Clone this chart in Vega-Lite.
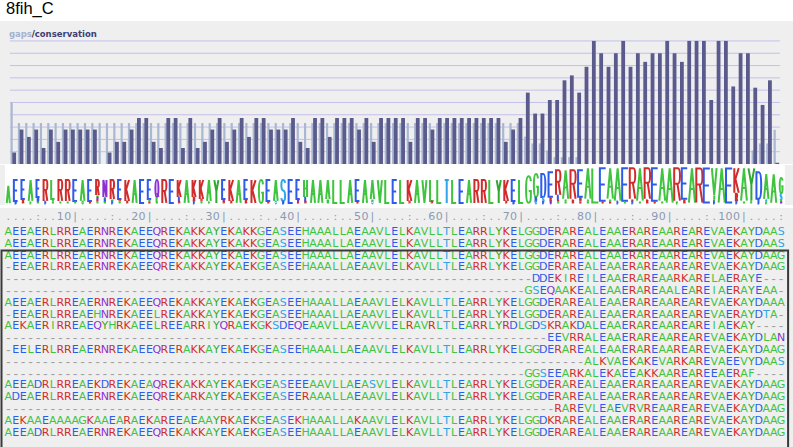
{
"$schema":"https://vega.github.io/schema/vega-lite/v6.json",
"padding":0,
"background":"#ffffff",
"spacing":0,
"title":{"text":"8fih_C","anchor":"start","frame":"group","font":"Liberation Sans","fontSize":16.5,"fontWeight":"normal","color":"#000000","dx":6,"offset":4},
"config":{"view":{"stroke":null,"fill":"#efefef"},"legend":{"disable":true},"concat":{"spacing":0}},
"datasets":{
"cols":[
{"c":1,"v":0.093,"g":0.5,"t":"."},{"c":2,"v":0.28,"g":0.333,"t":"."},{"c":3,"v":0.22,"g":0.333,"t":"."},{"c":4,"v":0.28,"g":0.333,"t":"."},{"c":5,"v":0.13,"g":0.333,"t":":"},
{"c":6,"v":0.28,"g":0.333,"t":"."},{"c":7,"v":0.18,"g":0.333,"t":"."},{"c":8,"v":0.28,"g":0.333,"t":"1"},{"c":9,"v":0.28,"g":0.333,"t":"0"},{"c":10,"v":0.28,"g":0.333,"t":"|"},
{"c":11,"v":0.28,"g":0.333,"t":"."},{"c":12,"v":0.28,"g":0.333,"t":"."},{"c":13,"v":0,"g":0.333,"t":"."},{"c":14,"v":0.093,"g":0.333,"t":"."},{"c":15,"v":0.18,"g":0.333,"t":":"},
{"c":16,"v":0.18,"g":0.333,"t":"."},{"c":17,"v":0.28,"g":0.333,"t":"."},{"c":18,"v":0.374,"g":0.333,"t":"2"},{"c":19,"v":0.374,"g":0.333,"t":"0"},{"c":20,"v":0.18,"g":0.333,"t":"|"},
{"c":21,"v":0.13,"g":0.333,"t":"."},{"c":22,"v":0.374,"g":0.333,"t":"."},{"c":23,"v":0.374,"g":0.333,"t":"."},{"c":24,"v":0.13,"g":0.333,"t":"."},{"c":25,"v":0.374,"g":0.333,"t":":"},
{"c":26,"v":0.13,"g":0.333,"t":"."},{"c":27,"v":0.18,"g":0.333,"t":"."},{"c":28,"v":0.28,"g":0.333,"t":"3"},{"c":29,"v":0.374,"g":0.333,"t":"0"},{"c":30,"v":0.18,"g":0.333,"t":"|"},
{"c":31,"v":0.28,"g":0.333,"t":"."},{"c":32,"v":0.374,"g":0.333,"t":"."},{"c":33,"v":0.22,"g":0.333,"t":"."},{"c":34,"v":0.374,"g":0.333,"t":"."},{"c":35,"v":0.374,"g":0.333,"t":":"},
{"c":36,"v":0.28,"g":0.333,"t":"."},{"c":37,"v":0.28,"g":0.333,"t":"."},{"c":38,"v":0.28,"g":0.333,"t":"4"},{"c":39,"v":0.374,"g":0.333,"t":"0"},{"c":40,"v":0.18,"g":0.333,"t":"|"},
{"c":41,"v":0.13,"g":0.333,"t":"."},{"c":42,"v":0.374,"g":0.333,"t":"."},{"c":43,"v":0.374,"g":0.333,"t":"."},{"c":44,"v":0.22,"g":0.333,"t":"."},{"c":45,"v":0.374,"g":0.333,"t":":"},
{"c":46,"v":0.374,"g":0.333,"t":"."},{"c":47,"v":0.374,"g":0.333,"t":"."},{"c":48,"v":0.28,"g":0.333,"t":"5"},{"c":49,"v":0.374,"g":0.333,"t":"0"},{"c":50,"v":0.18,"g":0.333,"t":"|"},
{"c":51,"v":0.374,"g":0.333,"t":"."},{"c":52,"v":0.374,"g":0.333,"t":"."},{"c":53,"v":0.374,"g":0.333,"t":"."},{"c":54,"v":0.374,"g":0.333,"t":"."},{"c":55,"v":0.18,"g":0.333,"t":":"},
{"c":56,"v":0.374,"g":0.333,"t":"."},{"c":57,"v":0.374,"g":0.333,"t":"."},{"c":58,"v":0.28,"g":0.333,"t":"6"},{"c":59,"v":0.374,"g":0.333,"t":"0"},{"c":60,"v":0.374,"g":0.333,"t":"|"},
{"c":61,"v":0.374,"g":0.333,"t":"."},{"c":62,"v":0.374,"g":0.333,"t":"."},{"c":63,"v":0.374,"g":0.333,"t":"."},{"c":64,"v":0.374,"g":0.333,"t":"."},{"c":65,"v":0.374,"g":0.333,"t":":"},
{"c":66,"v":0.374,"g":0.333,"t":"."},{"c":67,"v":0.374,"g":0.333,"t":"."},{"c":68,"v":0.18,"g":0.333,"t":"7"},{"c":69,"v":0.28,"g":0.333,"t":"0"},{"c":70,"v":0.374,"g":0.333,"t":"|"},
{"c":71,"v":0.58,"g":0.222,"t":"."},{"c":72,"v":0.41,"g":0.167,"t":"."},{"c":73,"v":0.41,"g":0.167,"t":"."},{"c":74,"v":0.52,"g":0.111,"t":"."},{"c":75,"v":0.52,"g":0.056,"t":":"},
{"c":76,"v":0.68,"g":0.056,"t":"."},{"c":77,"v":0.72,"g":0.056,"t":"."},{"c":78,"v":0.58,"g":0.056,"t":"8"},{"c":79,"v":0.79,"g":0,"t":"0"},{"c":80,"v":1,"g":0,"t":"|"},
{"c":81,"v":0.9,"g":0,"t":"."},{"c":82,"v":0.79,"g":0,"t":"."},{"c":83,"v":0.9,"g":0,"t":"."},{"c":84,"v":1,"g":0,"t":"."},{"c":85,"v":0.79,"g":0,"t":":"},
{"c":86,"v":0.9,"g":0,"t":"."},{"c":87,"v":0.83,"g":0,"t":"."},{"c":88,"v":0.9,"g":0,"t":"9"},{"c":89,"v":0.9,"g":0,"t":"0"},{"c":90,"v":1,"g":0,"t":"|"},
{"c":91,"v":0.9,"g":0,"t":"."},{"c":92,"v":0.83,"g":0,"t":"."},{"c":93,"v":1,"g":0,"t":"."},{"c":94,"v":1,"g":0,"t":"."},{"c":95,"v":1,"g":0,"t":":"},
{"c":96,"v":0.52,"g":0,"t":"."},{"c":97,"v":1,"g":0,"t":"1"},{"c":98,"v":1,"g":0,"t":"0"},{"c":99,"v":0.63,"g":0,"t":"0"},{"c":100,"v":0.9,"g":0,"t":"|"},
{"c":101,"v":0.9,"g":0,"t":"."},{"c":102,"v":0.62,"g":0.111,"t":"."},{"c":103,"v":0.48,"g":0.167,"t":"."},{"c":104,"v":0.68,"g":0.167,"t":"."},{"c":105,"v":0.01,"g":0.278,"t":":"}
],
"logo":[
{"c":1,"a":"A","m":0.25,"h":0.5},
{"c":2,"a":"E","m":0.361,"h":0.611},{"c":2,"a":"D","m":0.028,"h":0.056},
{"c":3,"a":"E","m":0.389,"h":0.556},{"c":3,"a":"K","m":0.056,"h":0.111},
{"c":4,"a":"A","m":0.361,"h":0.611},{"c":4,"a":"L","m":0.028,"h":0.056},
{"c":5,"a":"E","m":0.417,"h":0.5},{"c":5,"a":"D","m":0.111,"h":0.111},{"c":5,"a":"A","m":0.028,"h":0.056},
{"c":6,"a":"R","m":0.361,"h":0.611},{"c":6,"a":"E","m":0.028,"h":0.056},
{"c":7,"a":"L","m":0.389,"h":0.556},{"c":7,"a":"I","m":0.083,"h":0.056},{"c":7,"a":"A","m":0.028,"h":0.056},
{"c":8,"a":"R","m":0.361,"h":0.611},{"c":8,"a":"A","m":0.028,"h":0.056},
{"c":9,"a":"R","m":0.361,"h":0.611},{"c":9,"a":"A","m":0.028,"h":0.056},
{"c":10,"a":"E","m":0.361,"h":0.611},{"c":10,"a":"A","m":0.028,"h":0.056},
{"c":11,"a":"A","m":0.361,"h":0.611},{"c":11,"a":"G","m":0.028,"h":0.056},
{"c":12,"a":"E","m":0.361,"h":0.611},{"c":12,"a":"K","m":0.028,"h":0.056},
{"c":13,"a":"R","m":0.444,"h":0.444},{"c":13,"a":"H","m":0.194,"h":0.056},{"c":13,"a":"Q","m":0.139,"h":0.056},{"c":13,"a":"K","m":0.083,"h":0.056},{"c":13,"a":"A","m":0.028,"h":0.056},
{"c":14,"a":"N","m":0.417,"h":0.5},{"c":14,"a":"Y","m":0.139,"h":0.056},{"c":14,"a":"D","m":0.083,"h":0.056},{"c":14,"a":"A","m":0.028,"h":0.056},
{"c":15,"a":"R","m":0.389,"h":0.556},{"c":15,"a":"H","m":0.083,"h":0.056},{"c":15,"a":"E","m":0.028,"h":0.056},
{"c":16,"a":"E","m":0.389,"h":0.556},{"c":16,"a":"R","m":0.083,"h":0.056},{"c":16,"a":"A","m":0.028,"h":0.056},
{"c":17,"a":"K","m":0.361,"h":0.611},{"c":17,"a":"R","m":0.028,"h":0.056},
{"c":18,"a":"A","m":0.333,"h":0.667},{"c":19,"a":"E","m":0.333,"h":0.667},
{"c":20,"a":"E","m":0.389,"h":0.556},{"c":20,"a":"A","m":0.083,"h":0.056},{"c":20,"a":"K","m":0.028,"h":0.056},
{"c":21,"a":"Q","m":0.417,"h":0.5},{"c":21,"a":"L","m":0.111,"h":0.111},{"c":21,"a":"A","m":0.028,"h":0.056},
{"c":22,"a":"R","m":0.333,"h":0.667},{"c":23,"a":"E","m":0.333,"h":0.667},
{"c":24,"a":"K","m":0.417,"h":0.5},{"c":24,"a":"E","m":0.111,"h":0.111},{"c":24,"a":"R","m":0.028,"h":0.056},
{"c":25,"a":"A","m":0.333,"h":0.667},
{"c":26,"a":"K","m":0.417,"h":0.5},{"c":26,"a":"R","m":0.111,"h":0.111},{"c":26,"a":"E","m":0.028,"h":0.056},
{"c":27,"a":"K","m":0.389,"h":0.556},{"c":27,"a":"R","m":0.083,"h":0.056},{"c":27,"a":"A","m":0.028,"h":0.056},
{"c":28,"a":"A","m":0.361,"h":0.611},{"c":28,"a":"I","m":0.028,"h":0.056},
{"c":29,"a":"Y","m":0.333,"h":0.667},
{"c":30,"a":"E","m":0.389,"h":0.556},{"c":30,"a":"Q","m":0.083,"h":0.056},{"c":30,"a":"R","m":0.028,"h":0.056},
{"c":31,"a":"K","m":0.361,"h":0.611},{"c":31,"a":"R","m":0.028,"h":0.056},
{"c":32,"a":"A","m":0.333,"h":0.667},
{"c":33,"a":"E","m":0.389,"h":0.556},{"c":33,"a":"K","m":0.056,"h":0.111},
{"c":34,"a":"K","m":0.333,"h":0.667},{"c":35,"a":"G","m":0.333,"h":0.667},
{"c":36,"a":"E","m":0.361,"h":0.611},{"c":36,"a":"K","m":0.028,"h":0.056},
{"c":37,"a":"A","m":0.361,"h":0.611},{"c":37,"a":"S","m":0.028,"h":0.056},
{"c":38,"a":"S","m":0.361,"h":0.611},{"c":38,"a":"D","m":0.028,"h":0.056},
{"c":39,"a":"E","m":0.333,"h":0.667},
{"c":40,"a":"E","m":0.389,"h":0.556},{"c":40,"a":"Q","m":0.083,"h":0.056},{"c":40,"a":"K","m":0.028,"h":0.056},
{"c":41,"a":"H","m":0.417,"h":0.5},{"c":41,"a":"E","m":0.111,"h":0.111},{"c":41,"a":"R","m":0.028,"h":0.056},
{"c":42,"a":"A","m":0.333,"h":0.667},{"c":43,"a":"A","m":0.333,"h":0.667},
{"c":44,"a":"A","m":0.389,"h":0.556},{"c":44,"a":"V","m":0.056,"h":0.111},
{"c":45,"a":"L","m":0.333,"h":0.667},{"c":46,"a":"L","m":0.333,"h":0.667},{"c":47,"a":"A","m":0.333,"h":0.667},
{"c":48,"a":"E","m":0.361,"h":0.611},{"c":48,"a":"K","m":0.028,"h":0.056},
{"c":49,"a":"A","m":0.333,"h":0.667},
{"c":50,"a":"A","m":0.389,"h":0.556},{"c":50,"a":"V","m":0.083,"h":0.056},{"c":50,"a":"S","m":0.028,"h":0.056},
{"c":51,"a":"V","m":0.333,"h":0.667},{"c":52,"a":"L","m":0.333,"h":0.667},{"c":53,"a":"E","m":0.333,"h":0.667},{"c":54,"a":"L","m":0.333,"h":0.667},
{"c":55,"a":"K","m":0.361,"h":0.611},{"c":55,"a":"R","m":0.028,"h":0.056},
{"c":56,"a":"A","m":0.333,"h":0.667},{"c":57,"a":"V","m":0.333,"h":0.667},
{"c":58,"a":"L","m":0.361,"h":0.611},{"c":58,"a":"R","m":0.028,"h":0.056},
{"c":59,"a":"L","m":0.333,"h":0.667},{"c":60,"a":"T","m":0.333,"h":0.667},{"c":61,"a":"L","m":0.333,"h":0.667},{"c":62,"a":"E","m":0.333,"h":0.667},
{"c":63,"a":"A","m":0.333,"h":0.667},{"c":64,"a":"R","m":0.333,"h":0.667},{"c":65,"a":"R","m":0.333,"h":0.667},{"c":66,"a":"L","m":0.333,"h":0.667},{"c":67,"a":"Y","m":0.333,"h":0.667},
{"c":68,"a":"K","m":0.361,"h":0.611},{"c":68,"a":"R","m":0.028,"h":0.056},
{"c":69,"a":"E","m":0.361,"h":0.611},{"c":69,"a":"D","m":0.028,"h":0.056},
{"c":70,"a":"L","m":0.333,"h":0.667},
{"c":71,"a":"G","m":0.389,"h":0.778},
{"c":72,"a":"G","m":0.5,"h":0.667},{"c":72,"a":"D","m":0.111,"h":0.111},{"c":72,"a":"S","m":0.028,"h":0.056},
{"c":73,"a":"D","m":0.5,"h":0.667},{"c":73,"a":"S","m":0.111,"h":0.111},{"c":73,"a":"E","m":0.028,"h":0.056},
{"c":74,"a":"E","m":0.528,"h":0.722},{"c":74,"a":"K","m":0.111,"h":0.111},{"c":74,"a":"Q","m":0.028,"h":0.056},
{"c":75,"a":"R","m":0.583,"h":0.722},{"c":75,"a":"E","m":0.167,"h":0.111},{"c":75,"a":"K","m":0.083,"h":0.056},{"c":75,"a":"A","m":0.028,"h":0.056},
{"c":76,"a":"A","m":0.528,"h":0.833},{"c":76,"a":"I","m":0.083,"h":0.056},{"c":76,"a":"V","m":0.028,"h":0.056},
{"c":77,"a":"R","m":0.528,"h":0.833},{"c":77,"a":"K","m":0.056,"h":0.111},
{"c":78,"a":"E","m":0.555,"h":0.778},{"c":78,"a":"D","m":0.139,"h":0.056},{"c":78,"a":"R","m":0.083,"h":0.056},{"c":78,"a":"K","m":0.028,"h":0.056},
{"c":79,"a":"A","m":0.556,"h":0.889},{"c":79,"a":"I","m":0.083,"h":0.056},{"c":79,"a":"V","m":0.028,"h":0.056},
{"c":80,"a":"L","m":0.5,"h":1},
{"c":81,"a":"E","m":0.528,"h":0.944},{"c":81,"a":"K","m":0.028,"h":0.056},
{"c":82,"a":"A","m":0.556,"h":0.889},{"c":82,"a":"V","m":0.083,"h":0.056},{"c":82,"a":"K","m":0.028,"h":0.056},
{"c":83,"a":"A","m":0.528,"h":0.944},{"c":83,"a":"E","m":0.028,"h":0.056},
{"c":84,"a":"E","m":0.528,"h":0.944},{"c":84,"a":"V","m":0.028,"h":0.056},
{"c":85,"a":"R","m":0.556,"h":0.889},{"c":85,"a":"K","m":0.083,"h":0.056},{"c":85,"a":"E","m":0.028,"h":0.056},
{"c":86,"a":"A","m":0.528,"h":0.944},{"c":86,"a":"V","m":0.028,"h":0.056},
{"c":87,"a":"R","m":0.556,"h":0.889},{"c":87,"a":"K","m":0.056,"h":0.111},
{"c":88,"a":"E","m":0.528,"h":0.944},{"c":88,"a":"K","m":0.028,"h":0.056},
{"c":89,"a":"A","m":0.528,"h":0.944},{"c":89,"a":"V","m":0.028,"h":0.056},
{"c":90,"a":"A","m":0.5,"h":1},
{"c":91,"a":"R","m":0.528,"h":0.944},{"c":91,"a":"L","m":0.028,"h":0.056},
{"c":92,"a":"E","m":0.556,"h":0.889},{"c":92,"a":"K","m":0.056,"h":0.111},
{"c":93,"a":"A","m":0.5,"h":1},{"c":94,"a":"R","m":0.5,"h":1},{"c":95,"a":"E","m":0.5,"h":1},
{"c":96,"a":"V","m":0.611,"h":0.778},{"c":96,"a":"I","m":0.167,"h":0.111},{"c":96,"a":"L","m":0.083,"h":0.056},{"c":96,"a":"E","m":0.028,"h":0.056},
{"c":97,"a":"A","m":0.5,"h":1},{"c":98,"a":"E","m":0.5,"h":1},
{"c":99,"a":"K","m":0.639,"h":0.722},{"c":99,"a":"R","m":0.167,"h":0.222},{"c":99,"a":"E","m":0.028,"h":0.056},
{"c":100,"a":"A","m":0.528,"h":0.944},{"c":100,"a":"V","m":0.028,"h":0.056},
{"c":101,"a":"Y","m":0.528,"h":0.944},{"c":101,"a":"F","m":0.028,"h":0.056},
{"c":102,"a":"D","m":0.5,"h":0.778},{"c":102,"a":"E","m":0.056,"h":0.111},
{"c":103,"a":"A","m":0.472,"h":0.722},{"c":103,"a":"T","m":0.083,"h":0.056},{"c":103,"a":"L","m":0.028,"h":0.056},
{"c":104,"a":"A","m":0.417,"h":0.833},
{"c":105,"a":"G","m":0.5,"h":0.444},{"c":105,"a":"S","m":0.194,"h":0.167},{"c":105,"a":"A","m":0.083,"h":0.056},{"c":105,"a":"N","m":0.028,"h":0.056}
],
"seq":[
{"r":1,"1":"A","2":"E","3":"E","4":"A","5":"E","6":"R","7":"L","8":"R","9":"R","10":"E","11":"A","12":"E","13":"R","14":"N","15":"R","16":"E","17":"K","18":"A","19":"E","20":"E","21":"Q","22":"R","23":"E","24":"K","25":"A","26":"K","27":"K","28":"A","29":"Y","30":"E","31":"K","32":"A","33":"K","34":"K","35":"G","36":"E","37":"A","38":"S","39":"E","40":"E","41":"H","42":"A","43":"A","44":"A","45":"L","46":"L","47":"A","48":"E","49":"A","50":"A","51":"V","52":"L","53":"E","54":"L","55":"K","56":"A","57":"V","58":"L","59":"L","60":"T","61":"L","62":"E","63":"A","64":"R","65":"R","66":"L","67":"Y","68":"K","69":"E","70":"L","71":"G","72":"G","73":"D","74":"E","75":"R","76":"A","77":"R","78":"E","79":"A","80":"L","81":"E","82":"A","83":"A","84":"E","85":"R","86":"A","87":"R","88":"E","89":"A","90":"A","91":"R","92":"E","93":"A","94":"R","95":"E","96":"V","97":"A","98":"E","99":"K","100":"A","101":"Y","102":"D","103":"A","104":"A","105":"S"},
{"r":2,"1":"A","2":"E","3":"E","4":"A","5":"E","6":"R","7":"L","8":"R","9":"R","10":"E","11":"A","12":"E","13":"R","14":"N","15":"R","16":"E","17":"K","18":"A","19":"E","20":"E","21":"Q","22":"R","23":"E","24":"K","25":"A","26":"K","27":"K","28":"A","29":"Y","30":"E","31":"K","32":"A","33":"K","34":"K","35":"G","36":"E","37":"A","38":"S","39":"E","40":"E","41":"H","42":"A","43":"A","44":"A","45":"L","46":"L","47":"A","48":"E","49":"A","50":"A","51":"V","52":"L","53":"E","54":"L","55":"K","56":"A","57":"V","58":"L","59":"L","60":"T","61":"L","62":"E","63":"A","64":"R","65":"R","66":"L","67":"Y","68":"K","69":"E","70":"L","71":"G","72":"G","73":"D","74":"E","75":"R","76":"A","77":"R","78":"E","79":"A","80":"L","81":"E","82":"A","83":"A","84":"E","85":"R","86":"A","87":"R","88":"E","89":"A","90":"A","91":"R","92":"E","93":"A","94":"R","95":"E","96":"V","97":"A","98":"E","99":"K","100":"A","101":"Y","102":"D","103":"A","104":"A","105":"S"},
{"r":3,"1":"A","2":"E","3":"E","4":"A","5":"E","6":"R","7":"L","8":"R","9":"R","10":"E","11":"A","12":"E","13":"R","14":"N","15":"R","16":"E","17":"K","18":"A","19":"E","20":"E","21":"Q","22":"R","23":"E","24":"K","25":"A","26":"K","27":"K","28":"A","29":"Y","30":"E","31":"K","32":"A","33":"E","34":"K","35":"G","36":"E","37":"A","38":"S","39":"E","40":"E","41":"H","42":"A","43":"A","44":"A","45":"L","46":"L","47":"A","48":"E","49":"A","50":"A","51":"V","52":"L","53":"E","54":"L","55":"K","56":"A","57":"V","58":"L","59":"L","60":"T","61":"L","62":"E","63":"A","64":"R","65":"R","66":"L","67":"Y","68":"K","69":"E","70":"L","71":"G","72":"G","73":"D","74":"E","75":"R","76":"A","77":"R","78":"E","79":"A","80":"L","81":"E","82":"A","83":"A","84":"E","85":"R","86":"A","87":"R","88":"E","89":"A","90":"A","91":"R","92":"E","93":"A","94":"R","95":"E","96":"V","97":"A","98":"E","99":"K","100":"A","101":"Y","102":"D","103":"A","104":"A","105":"G"},
{"r":4,"1":"-","2":"E","3":"E","4":"A","5":"E","6":"R","7":"L","8":"R","9":"R","10":"E","11":"A","12":"E","13":"R","14":"N","15":"R","16":"E","17":"K","18":"A","19":"E","20":"E","21":"Q","22":"R","23":"E","24":"K","25":"A","26":"K","27":"K","28":"A","29":"Y","30":"E","31":"K","32":"A","33":"E","34":"K","35":"G","36":"E","37":"A","38":"S","39":"E","40":"E","41":"H","42":"A","43":"A","44":"A","45":"L","46":"L","47":"A","48":"E","49":"A","50":"A","51":"V","52":"L","53":"E","54":"L","55":"K","56":"A","57":"V","58":"L","59":"L","60":"T","61":"L","62":"E","63":"A","64":"R","65":"R","66":"L","67":"Y","68":"K","69":"E","70":"L","71":"G","72":"G","73":"D","74":"E","75":"R","76":"A","77":"R","78":"E","79":"A","80":"L","81":"E","82":"A","83":"A","84":"E","85":"R","86":"A","87":"R","88":"E","89":"A","90":"A","91":"R","92":"E","93":"A","94":"R","95":"E","96":"V","97":"A","98":"E","99":"K","100":"A","101":"Y","102":"D","103":"A","104":"A","105":"G"},
{"r":5,"1":"-","2":"-","3":"-","4":"-","5":"-","6":"-","7":"-","8":"-","9":"-","10":"-","11":"-","12":"-","13":"-","14":"-","15":"-","16":"-","17":"-","18":"-","19":"-","20":"-","21":"-","22":"-","23":"-","24":"-","25":"-","26":"-","27":"-","28":"-","29":"-","30":"-","31":"-","32":"-","33":"-","34":"-","35":"-","36":"-","37":"-","38":"-","39":"-","40":"-","41":"-","42":"-","43":"-","44":"-","45":"-","46":"-","47":"-","48":"-","49":"-","50":"-","51":"-","52":"-","53":"-","54":"-","55":"-","56":"-","57":"-","58":"-","59":"-","60":"-","61":"-","62":"-","63":"-","64":"-","65":"-","66":"-","67":"-","68":"-","69":"-","70":"-","71":"-","72":"D","73":"D","74":"E","75":"K","76":"I","77":"R","78":"E","79":"I","80":"L","81":"E","82":"A","83":"A","84":"E","85":"R","86":"A","87":"R","88":"E","89":"A","90":"A","91":"R","92":"K","93":"A","94":"R","95":"E","96":"L","97":"A","98":"E","99":"R","100":"A","101":"Y","102":"E","103":"-","104":"-","105":"-"},
{"r":6,"1":"-","2":"-","3":"-","4":"-","5":"-","6":"-","7":"-","8":"-","9":"-","10":"-","11":"-","12":"-","13":"-","14":"-","15":"-","16":"-","17":"-","18":"-","19":"-","20":"-","21":"-","22":"-","23":"-","24":"-","25":"-","26":"-","27":"-","28":"-","29":"-","30":"-","31":"-","32":"-","33":"-","34":"-","35":"-","36":"-","37":"-","38":"-","39":"-","40":"-","41":"-","42":"-","43":"-","44":"-","45":"-","46":"-","47":"-","48":"-","49":"-","50":"-","51":"-","52":"-","53":"-","54":"-","55":"-","56":"-","57":"-","58":"-","59":"-","60":"-","61":"-","62":"-","63":"-","64":"-","65":"-","66":"-","67":"-","68":"-","69":"-","70":"-","71":"G","72":"S","73":"E","74":"Q","75":"A","76":"A","77":"K","78":"E","79":"A","80":"L","81":"E","82":"A","83":"A","84":"E","85":"R","86":"A","87":"R","88":"E","89":"A","90":"A","91":"L","92":"E","93":"A","94":"R","95":"E","96":"I","97":"A","98":"E","99":"R","100":"A","101":"Y","102":"E","103":"A","104":"A","105":"-"},
{"r":7,"1":"A","2":"E","3":"E","4":"A","5":"E","6":"R","7":"L","8":"R","9":"R","10":"E","11":"A","12":"E","13":"R","14":"N","15":"R","16":"E","17":"K","18":"A","19":"E","20":"E","21":"Q","22":"R","23":"E","24":"K","25":"A","26":"K","27":"K","28":"A","29":"Y","30":"E","31":"K","32":"A","33":"E","34":"K","35":"G","36":"E","37":"A","38":"S","39":"E","40":"E","41":"H","42":"A","43":"A","44":"A","45":"L","46":"L","47":"A","48":"E","49":"A","50":"A","51":"V","52":"L","53":"E","54":"L","55":"K","56":"A","57":"V","58":"L","59":"L","60":"T","61":"L","62":"E","63":"A","64":"R","65":"R","66":"L","67":"Y","68":"K","69":"E","70":"L","71":"G","72":"G","73":"D","74":"E","75":"R","76":"A","77":"R","78":"E","79":"A","80":"L","81":"E","82":"A","83":"A","84":"E","85":"R","86":"A","87":"R","88":"E","89":"A","90":"A","91":"R","92":"E","93":"A","94":"R","95":"E","96":"V","97":"A","98":"E","99":"K","100":"A","101":"Y","102":"D","103":"A","104":"A","105":"A"},
{"r":8,"1":"-","2":"E","3":"E","4":"A","5":"E","6":"R","7":"L","8":"R","9":"R","10":"E","11":"A","12":"E","13":"H","14":"N","15":"R","16":"E","17":"K","18":"A","19":"E","20":"E","21":"L","22":"R","23":"E","24":"K","25":"A","26":"K","27":"K","28":"A","29":"Y","30":"E","31":"K","32":"A","33":"E","34":"K","35":"G","36":"E","37":"A","38":"S","39":"E","40":"E","41":"H","42":"A","43":"A","44":"A","45":"L","46":"L","47":"A","48":"E","49":"A","50":"A","51":"V","52":"L","53":"E","54":"L","55":"K","56":"A","57":"V","58":"L","59":"L","60":"T","61":"L","62":"E","63":"A","64":"R","65":"R","66":"L","67":"Y","68":"K","69":"E","70":"L","71":"G","72":"G","73":"D","74":"E","75":"R","76":"A","77":"R","78":"E","79":"A","80":"L","81":"E","82":"A","83":"A","84":"E","85":"R","86":"A","87":"R","88":"E","89":"A","90":"A","91":"R","92":"E","93":"A","94":"R","95":"E","96":"V","97":"A","98":"E","99":"R","100":"A","101":"Y","102":"D","103":"T","104":"A","105":"-"},
{"r":9,"1":"A","2":"E","3":"K","4":"A","5":"E","6":"R","7":"I","8":"R","9":"R","10":"E","11":"A","12":"E","13":"Q","14":"Y","15":"H","16":"R","17":"K","18":"A","19":"E","20":"E","21":"L","22":"R","23":"E","24":"E","25":"A","26":"R","27":"R","28":"I","29":"Y","30":"Q","31":"R","32":"A","33":"E","34":"K","35":"G","36":"K","37":"S","38":"D","39":"E","40":"Q","41":"E","42":"A","43":"A","44":"V","45":"L","46":"L","47":"A","48":"E","49":"A","50":"V","51":"V","52":"L","53":"E","54":"L","55":"R","56":"A","57":"V","58":"R","59":"L","60":"T","61":"L","62":"E","63":"A","64":"R","65":"R","66":"L","67":"Y","68":"R","69":"D","70":"L","71":"G","72":"D","73":"S","74":"K","75":"R","76":"A","77":"K","78":"D","79":"A","80":"L","81":"E","82":"A","83":"A","84":"E","85":"R","86":"A","87":"R","88":"E","89":"A","90":"A","91":"R","92":"E","93":"A","94":"R","95":"E","96":"I","97":"A","98":"E","99":"K","100":"A","101":"Y","102":"-","103":"-","104":"-","105":"-"},
{"r":10,"1":"-","2":"-","3":"-","4":"-","5":"-","6":"-","7":"-","8":"-","9":"-","10":"-","11":"-","12":"-","13":"-","14":"-","15":"-","16":"-","17":"-","18":"-","19":"-","20":"-","21":"-","22":"-","23":"-","24":"-","25":"-","26":"-","27":"-","28":"-","29":"-","30":"-","31":"-","32":"-","33":"-","34":"-","35":"-","36":"-","37":"-","38":"-","39":"-","40":"-","41":"-","42":"-","43":"-","44":"-","45":"-","46":"-","47":"-","48":"-","49":"-","50":"-","51":"-","52":"-","53":"-","54":"-","55":"-","56":"-","57":"-","58":"-","59":"-","60":"-","61":"-","62":"-","63":"-","64":"-","65":"-","66":"-","67":"-","68":"-","69":"-","70":"-","71":"-","72":"-","73":"-","74":"E","75":"E","76":"V","77":"R","78":"R","79":"A","80":"L","81":"E","82":"A","83":"A","84":"E","85":"R","86":"A","87":"R","88":"E","89":"A","90":"A","91":"R","92":"E","93":"A","94":"R","95":"E","96":"V","97":"A","98":"E","99":"K","100":"A","101":"Y","102":"D","103":"L","104":"A","105":"N"},
{"r":11,"1":"-","2":"E","3":"E","4":"L","5":"E","6":"R","7":"L","8":"R","9":"R","10":"E","11":"A","12":"E","13":"R","14":"N","15":"R","16":"E","17":"K","18":"A","19":"E","20":"E","21":"Q","22":"R","23":"E","24":"R","25":"A","26":"K","27":"K","28":"A","29":"Y","30":"E","31":"K","32":"A","33":"E","34":"K","35":"G","36":"E","37":"A","38":"S","39":"E","40":"E","41":"H","42":"A","43":"A","44":"A","45":"L","46":"L","47":"A","48":"E","49":"A","50":"A","51":"V","52":"L","53":"E","54":"L","55":"K","56":"A","57":"V","58":"L","59":"L","60":"T","61":"L","62":"E","63":"A","64":"R","65":"R","66":"L","67":"Y","68":"K","69":"E","70":"L","71":"G","72":"G","73":"D","74":"E","75":"R","76":"A","77":"R","78":"E","79":"A","80":"L","81":"E","82":"A","83":"A","84":"E","85":"R","86":"A","87":"R","88":"E","89":"A","90":"A","91":"R","92":"E","93":"A","94":"R","95":"E","96":"V","97":"A","98":"E","99":"K","100":"A","101":"Y","102":"D","103":"A","104":"A","105":"G"},
{"r":12,"1":"-","2":"-","3":"-","4":"-","5":"-","6":"-","7":"-","8":"-","9":"-","10":"-","11":"-","12":"-","13":"-","14":"-","15":"-","16":"-","17":"-","18":"-","19":"-","20":"-","21":"-","22":"-","23":"-","24":"-","25":"-","26":"-","27":"-","28":"-","29":"-","30":"-","31":"-","32":"-","33":"-","34":"-","35":"-","36":"-","37":"-","38":"-","39":"-","40":"-","41":"-","42":"-","43":"-","44":"-","45":"-","46":"-","47":"-","48":"-","49":"-","50":"-","51":"-","52":"-","53":"-","54":"-","55":"-","56":"-","57":"-","58":"-","59":"-","60":"-","61":"-","62":"-","63":"-","64":"-","65":"-","66":"-","67":"-","68":"-","69":"-","70":"-","71":"-","72":"-","73":"-","74":"-","75":"-","76":"-","77":"-","78":"-","79":"A","80":"L","81":"K","82":"V","83":"A","84":"E","85":"K","86":"A","87":"K","88":"E","89":"V","90":"A","91":"R","92":"K","93":"A","94":"R","95":"E","96":"V","97":"A","98":"E","99":"E","100":"V","101":"Y","102":"D","103":"A","104":"A","105":"S"},
{"r":13,"1":"-","2":"-","3":"-","4":"-","5":"-","6":"-","7":"-","8":"-","9":"-","10":"-","11":"-","12":"-","13":"-","14":"-","15":"-","16":"-","17":"-","18":"-","19":"-","20":"-","21":"-","22":"-","23":"-","24":"-","25":"-","26":"-","27":"-","28":"-","29":"-","30":"-","31":"-","32":"-","33":"-","34":"-","35":"-","36":"-","37":"-","38":"-","39":"-","40":"-","41":"-","42":"-","43":"-","44":"-","45":"-","46":"-","47":"-","48":"-","49":"-","50":"-","51":"-","52":"-","53":"-","54":"-","55":"-","56":"-","57":"-","58":"-","59":"-","60":"-","61":"-","62":"-","63":"-","64":"-","65":"-","66":"-","67":"-","68":"-","69":"-","70":"-","71":"G","72":"G","73":"S","74":"E","75":"E","76":"A","77":"R","78":"K","79":"A","80":"L","81":"E","82":"K","83":"A","84":"E","85":"E","86":"A","87":"K","88":"K","89":"A","90":"A","91":"R","92":"E","93":"A","94":"R","95":"E","96":"E","97":"A","98":"E","99":"R","100":"A","101":"F","102":"-","103":"-","104":"-","105":"-"},
{"r":14,"1":"A","2":"E","3":"E","4":"A","5":"D","6":"R","7":"L","8":"R","9":"R","10":"E","11":"A","12":"E","13":"K","14":"D","15":"R","16":"E","17":"K","18":"A","19":"E","20":"A","21":"Q","22":"R","23":"E","24":"K","25":"A","26":"K","27":"K","28":"A","29":"Y","30":"E","31":"K","32":"A","33":"E","34":"K","35":"G","36":"E","37":"A","38":"S","39":"E","40":"E","41":"E","42":"A","43":"A","44":"V","45":"L","46":"L","47":"A","48":"E","49":"A","50":"S","51":"V","52":"L","53":"E","54":"L","55":"K","56":"A","57":"V","58":"L","59":"L","60":"T","61":"L","62":"E","63":"A","64":"R","65":"R","66":"L","67":"Y","68":"K","69":"E","70":"L","71":"G","72":"G","73":"D","74":"E","75":"R","76":"A","77":"R","78":"E","79":"A","80":"L","81":"E","82":"A","83":"A","84":"E","85":"R","86":"A","87":"R","88":"E","89":"A","90":"A","91":"R","92":"E","93":"A","94":"R","95":"E","96":"V","97":"A","98":"E","99":"K","100":"A","101":"Y","102":"D","103":"A","104":"A","105":"G"},
{"r":15,"1":"A","2":"D","3":"E","4":"A","5":"E","6":"R","7":"L","8":"R","9":"R","10":"E","11":"A","12":"E","13":"R","14":"N","15":"R","16":"E","17":"K","18":"A","19":"E","20":"E","21":"Q","22":"R","23":"E","24":"K","25":"A","26":"R","27":"K","28":"A","29":"Y","30":"E","31":"K","32":"A","33":"E","34":"K","35":"G","36":"E","37":"A","38":"S","39":"E","40":"E","41":"R","42":"A","43":"A","44":"A","45":"L","46":"L","47":"A","48":"E","49":"A","50":"A","51":"V","52":"L","53":"E","54":"L","55":"K","56":"A","57":"V","58":"L","59":"L","60":"T","61":"L","62":"E","63":"A","64":"R","65":"R","66":"L","67":"Y","68":"K","69":"E","70":"L","71":"G","72":"G","73":"D","74":"E","75":"R","76":"A","77":"R","78":"E","79":"A","80":"L","81":"E","82":"A","83":"A","84":"E","85":"R","86":"A","87":"R","88":"E","89":"A","90":"A","91":"R","92":"E","93":"A","94":"R","95":"E","96":"V","97":"A","98":"E","99":"K","100":"A","101":"Y","102":"D","103":"A","104":"A","105":"G"},
{"r":16,"1":"-","2":"-","3":"-","4":"-","5":"-","6":"-","7":"-","8":"-","9":"-","10":"-","11":"-","12":"-","13":"-","14":"-","15":"-","16":"-","17":"-","18":"-","19":"-","20":"-","21":"-","22":"-","23":"-","24":"-","25":"-","26":"-","27":"-","28":"-","29":"-","30":"-","31":"-","32":"-","33":"-","34":"-","35":"-","36":"-","37":"-","38":"-","39":"-","40":"-","41":"-","42":"-","43":"-","44":"-","45":"-","46":"-","47":"-","48":"-","49":"-","50":"-","51":"-","52":"-","53":"-","54":"-","55":"-","56":"-","57":"-","58":"-","59":"-","60":"-","61":"-","62":"-","63":"-","64":"-","65":"-","66":"-","67":"-","68":"-","69":"-","70":"-","71":"-","72":"-","73":"-","74":"-","75":"R","76":"A","77":"R","78":"E","79":"V","80":"L","81":"E","82":"A","83":"E","84":"V","85":"R","86":"V","87":"R","88":"E","89":"A","90":"A","91":"R","92":"E","93":"A","94":"R","95":"E","96":"V","97":"A","98":"E","99":"K","100":"A","101":"Y","102":"D","103":"A","104":"A","105":"G"},
{"r":17,"1":"A","2":"E","3":"K","4":"A","5":"A","6":"E","7":"A","8":"A","9":"A","10":"A","11":"G","12":"K","13":"A","14":"A","15":"E","16":"A","17":"R","18":"A","19":"E","20":"K","21":"A","22":"R","23":"E","24":"E","25":"A","26":"E","27":"A","28":"A","29":"Y","30":"R","31":"K","32":"A","33":"E","34":"K","35":"G","36":"E","37":"A","38":"S","39":"E","40":"K","41":"H","42":"A","43":"A","44":"A","45":"L","46":"L","47":"A","48":"K","49":"A","50":"A","51":"V","52":"L","53":"E","54":"L","55":"K","56":"A","57":"V","58":"L","59":"L","60":"T","61":"L","62":"E","63":"A","64":"R","65":"R","66":"L","67":"Y","68":"K","69":"E","70":"L","71":"G","72":"G","73":"D","74":"K","75":"R","76":"A","77":"R","78":"E","79":"A","80":"L","81":"E","82":"A","83":"A","84":"E","85":"R","86":"A","87":"R","88":"E","89":"A","90":"A","91":"R","92":"E","93":"A","94":"R","95":"E","96":"V","97":"A","98":"E","99":"K","100":"A","101":"Y","102":"D","103":"A","104":"A","105":"G"},
{"r":18,"1":"A","2":"E","3":"E","4":"A","5":"D","6":"R","7":"L","8":"R","9":"R","10":"E","11":"A","12":"E","13":"R","14":"N","15":"R","16":"E","17":"K","18":"A","19":"E","20":"E","21":"Q","22":"R","23":"E","24":"K","25":"A","26":"K","27":"K","28":"A","29":"Y","30":"E","31":"K","32":"A","33":"E","34":"K","35":"G","36":"E","37":"A","38":"S","39":"E","40":"E","41":"H","42":"A","43":"A","44":"A","45":"L","46":"L","47":"A","48":"E","49":"A","50":"A","51":"V","52":"L","53":"E","54":"L","55":"K","56":"A","57":"V","58":"L","59":"L","60":"T","61":"L","62":"E","63":"A","64":"R","65":"R","66":"L","67":"Y","68":"K","69":"E","70":"L","71":"G","72":"G","73":"D","74":"E","75":"R","76":"A","77":"R","78":"E","79":"A","80":"L","81":"E","82":"A","83":"A","84":"E","85":"R","86":"A","87":"R","88":"E","89":"A","90":"A","91":"R","92":"E","93":"A","94":"R","95":"E","96":"V","97":"A","98":"E","99":"K","100":"A","101":"Y","102":"D","103":"A","104":"A","105":"G"}
]
},
"vconcat":[
{"width":793,"height":143,
 "layer":[
  {"data":{"values":[{"y":0.1},{"y":0.2},{"y":0.3},{"y":0.4},{"y":0.5},{"y":0.6},{"y":0.7},{"y":0.8},{"y":0.9},{"y":1}]},
   "mark":{"type":"rule","color":"#c4bfea","strokeWidth":1},
   "encoding":{"x":{"datum":0.55,"type":"quantitative","scale":{"domain":[-0.117,106.6],"nice":false,"zero":false},"axis":null},"x2":{"datum":105.5},
     "y":{"field":"y","type":"quantitative","scale":{"domain":[0,1.162],"nice":false,"zero":false},"axis":null}}},
  {"data":{"name":"cols"},"mark":{"type":"bar","orient":"vertical","size":2.2,"xOffset":-1.6,"color":"#a9b8d2"},
   "encoding":{"x":{"field":"c","type":"quantitative","scale":{"domain":[-0.117,106.6],"nice":false,"zero":false},"axis":null},"y":{"field":"g","type":"quantitative","stack":null,"scale":{"domain":[0,1.162],"nice":false,"zero":false},"axis":null}}},
  {"data":{"name":"cols"},"mark":{"type":"bar","orient":"vertical","size":3.8,"xOffset":1,"color":"#5a5a8d"},
   "encoding":{"x":{"field":"c","type":"quantitative","scale":{"domain":[-0.117,106.6],"nice":false,"zero":false},"axis":null},"y":{"field":"v","type":"quantitative","stack":null,"scale":{"domain":[0,1.162],"nice":false,"zero":false},"axis":null}}},
  {"data":{"values":[{}]},"mark":{"type":"text","text":"gaps","font":"DejaVu Sans","fontWeight":"bold","fontSize":8.5,"color":"#a3b3d0","align":"left","baseline":"alphabetic"},
   "encoding":{"x":{"datum":0.421,"type":"quantitative","axis":null},"y":{"datum":1.028,"type":"quantitative","axis":null}}},
  {"data":{"values":[{}]},"mark":{"type":"text","text":"/","font":"DejaVu Sans","fontWeight":"bold","fontSize":8.5,"color":"#1e1e3a","align":"left","baseline":"alphabetic"},
   "encoding":{"x":{"datum":3.517,"type":"quantitative","axis":null},"y":{"datum":1.028,"type":"quantitative","axis":null}}},
  {"data":{"values":[{}]},"mark":{"type":"text","text":"conservation","font":"DejaVu Sans","fontWeight":"bold","fontSize":8.5,"color":"#3d3f73","align":"left","baseline":"alphabetic"},
   "encoding":{"x":{"datum":3.934,"type":"quantitative","axis":null},"y":{"datum":1.028,"type":"quantitative","axis":null}}}
 ]},
{"width":793,"height":40,
 "layer":[
  {"data":{"values":[{}]},"mark":{"type":"rect","color":"#ffffff"},
   "encoding":{"x":{"datum":0.55,"type":"quantitative","scale":{"domain":[-0.117,106.6],"nice":false,"zero":false},"axis":null},"x2":{"datum":105.5},
     "y":{"datum":-0.0417,"type":"quantitative","scale":{"domain":[-0.0417,1.0694],"nice":false,"zero":false},"axis":null},"y2":{"datum":1.0694}}},
  {"data":{"name":"logo"},"mark":{"type":"point","filled":false,"strokeWidth":2,"opacity":1},
   "encoding":{"x":{"field":"c","type":"quantitative","scale":{"domain":[-0.117,106.6],"nice":false,"zero":false},"axis":null},
     "y":{"field":"m","type":"quantitative","scale":{"domain":[-0.0417,1.0694],"nice":false,"zero":false},"axis":null},
     "shape":{"field":"a","type":"nominal","legend":null,"scale":{"domain":["A","E","D","R","K","N","Q","S","T","L","V","I","G","Y","H","F"],
       "range":["M-0.17,0.95L0,-0.95L0.17,0.95M-0.1,0.2H0.1",
       "M0.17,-0.95H-0.17V0.95H0.17M-0.17,0H0.12",
       "M-0.17,-0.95V0.95H0Q0.17,0.95 0.17,0Q0.17,-0.95 0,-0.95Z",
       "M-0.17,0.95V-0.95H0.05Q0.17,-0.95 0.17,-0.5Q0.17,-0.05 0.05,-0.05H-0.17M0.02,-0.05L0.17,0.95",
       "M-0.17,-0.95V0.95M0.17,-0.95L-0.17,0.15M-0.07,-0.05L0.17,0.95",
       "M-0.17,0.95V-0.95L0.17,0.95V-0.95",
       "M0,-0.95Q-0.17,-0.95 -0.17,0Q-0.17,0.95 0,0.95Q0.17,0.95 0.17,0Q0.17,-0.95 0,-0.95M0.05,0.5L0.17,0.95",
       "M0.17,-0.7Q0.14,-0.95 0,-0.95Q-0.17,-0.95 -0.17,-0.5Q-0.17,-0.05 0,0Q0.17,0.05 0.17,0.5Q0.17,0.95 0,0.95Q-0.14,0.95 -0.17,0.7",
       "M-0.17,-0.95H0.17M0,-0.95V0.95",
       "M-0.17,-0.95V0.95H0.17",
       "M-0.17,-0.95L0,0.95L0.17,-0.95",
       "M0,-0.95V0.95M-0.09,-0.95H0.09M-0.09,0.95H0.09",
       "M0.17,-0.6Q0.14,-0.95 0,-0.95Q-0.17,-0.95 -0.17,0Q-0.17,0.95 0,0.95Q0.17,0.95 0.17,0.5V0.1H0.02",
       "M-0.17,-0.95L0,0L0.17,-0.95M0,0V0.95",
       "M-0.17,-0.95V0.95M0.17,-0.95V0.95M-0.17,0H0.17",
       "M0.17,-0.95H-0.17V0.95M-0.17,0H0.12"]}},
     "size":{"field":"h","type":"quantitative","legend":null,"scale":{"type":"pow","exponent":2,"domain":[0,1],"range":[0,1296]}},
     "color":{"field":"a","type":"nominal","legend":null,"scale":{"domain":["A","E","D","R","K","N","Q","S","T","L","V","I","G","Y","H","F","M","P","C","W"],
       "range":["#3fc43f","#2d5bea","#2d5bea","#d22b2b","#d22b2b","#8a2fd4","#8a2fd4","#2fa4e8","#2fa4e8","#3fc43f","#3fc43f","#3fc43f","#3fc43f","#2faa2f","#3fc43f","#3fc43f","#3fc43f","#3fc43f","#3fc43f","#3fc43f"]}}}}
 ]},
{"width":793,"height":17,"data":{"name":"cols"},
 "mark":{"type":"text","font":"DejaVu Sans","fontSize":11,"color":"#8a9ab3","baseline":"middle","align":"center"},
 "encoding":{"x":{"field":"c","type":"quantitative","scale":{"domain":[-0.117,106.6],"nice":false,"zero":false},"axis":null},
   "y":{"datum":0,"type":"quantitative","scale":{"domain":[-1,1],"nice":false,"zero":false},"axis":null},
   "text":{"field":"t","type":"nominal"}}},
{"width":793,"height":225,
 "layer":[
  {"data":{"name":"seq"},
   "transform":[{"fold":["1","2","3","4","5","6","7","8","9","10","11","12","13","14","15","16","17","18","19","20","21","22","23","24","25","26","27","28","29","30","31","32","33","34","35","36","37","38","39","40","41","42","43","44","45","46","47","48","49","50","51","52","53","54","55","56","57","58","59","60","61","62","63","64","65","66","67","68","69","70","71","72","73","74","75","76","77","78","79","80","81","82","83","84","85","86","87","88","89","90","91","92","93","94","95","96","97","98","99","100","101","102","103","104","105"],"as":["c","a"]}],
   "layer":[
    {"transform":[{"filter":"datum.a !== '-'"}],
     "mark":{"type":"text","font":"DejaVu Sans","fontSize":11,"baseline":"middle","align":"center"},
     "encoding":{"x":{"field":"c","type":"quantitative","scale":{"domain":[-0.117,106.6],"nice":false,"zero":false},"axis":null},
       "y":{"field":"r","type":"quantitative","scale":{"domain":[0.407,19.475],"reverse":true,"nice":false,"zero":false},"axis":null},
       "text":{"field":"a","type":"nominal"},
       "color":{"field":"a","type":"nominal","legend":null,"scale":{"domain":["A","E","D","R","K","N","Q","S","T","L","V","I","G","Y","H","F","M","P","C","W"],
       "range":["#3fc43f","#2d5bea","#2d5bea","#d22b2b","#d22b2b","#8a2fd4","#8a2fd4","#2fa4e8","#2fa4e8","#3fc43f","#3fc43f","#3fc43f","#3fc43f","#2faa2f","#3fc43f","#3fc43f","#3fc43f","#3fc43f","#3fc43f","#3fc43f"]}}}},
    {"transform":[{"filter":"datum.a === '-'"}],
     "mark":{"type":"text","font":"Liberation Mono","fontSize":12,"baseline":"middle","align":"center","color":"#a0a0a0"},
     "encoding":{"x":{"field":"c","type":"quantitative","scale":{"domain":[-0.117,106.6],"nice":false,"zero":false},"axis":null},
       "y":{"field":"r","type":"quantitative","scale":{"domain":[0.407,19.475],"reverse":true,"nice":false,"zero":false},"axis":null},
       "text":{"field":"a","type":"nominal"}}}
   ]},
  {"data":{"values":[{}]},"mark":{"type":"rect","filled":false,"stroke":"#3a3a3a","strokeWidth":2},
   "encoding":{"x":{"datum":0.085,"type":"quantitative","scale":{"domain":[-0.117,106.6],"nice":false,"zero":false},"axis":null},"x2":{"datum":105.94},
     "y":{"datum":2.568,"type":"quantitative","scale":{"domain":[0.407,19.475],"reverse":true,"nice":false,"zero":false},"axis":null},"y2":{"datum":19.305}}}
 ]}
]
}
